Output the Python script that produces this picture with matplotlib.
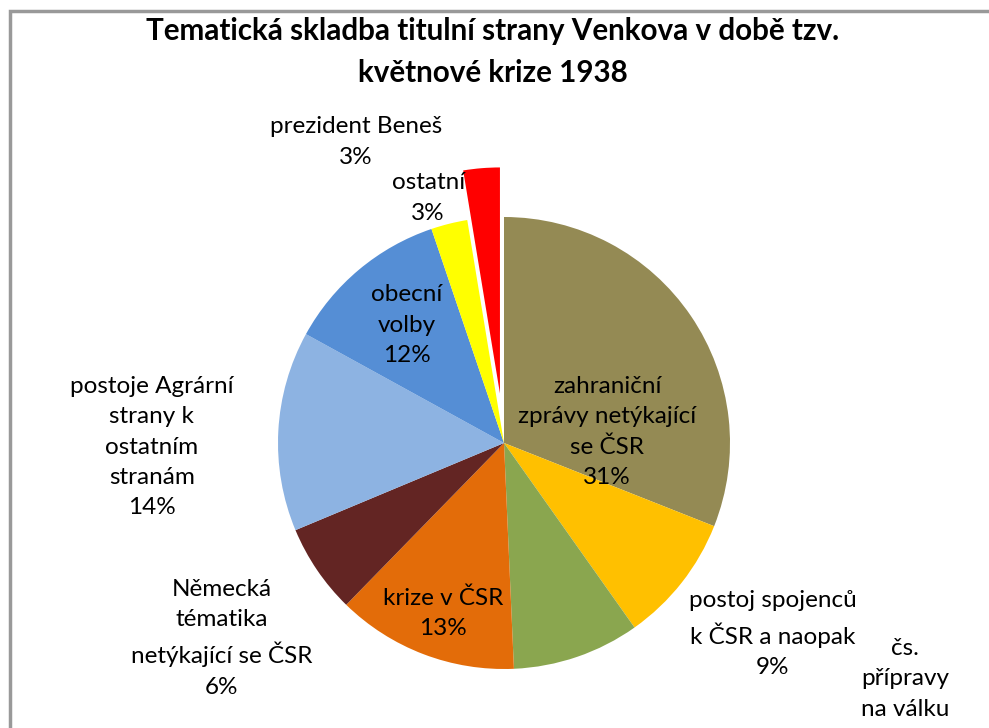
import matplotlib.pyplot as plt
from matplotlib.patches import Rectangle

# podíly témat (v %), po směru hodin od 12:00
temata = ['zahraniční\nzprávy netýkající\nse ČSR',
          'postoj spojenců\nk ČSR a naopak',
          'čs.\npřípravy\nna válku',
          'krize v ČSR',
          'Německá\ntématika\nnetýkající se ČSR',
          'postoje Agrární\nstrany k\nostatním\nstranám',
          'obecní\nvolby',
          'ostatní',
          'prezident Beneš']
podily = [31.0, 9.2, 9.1, 13.0, 6.4, 14.3, 11.8, 2.6, 2.6]
barvy = ['#948A54', '#FFC000', '#8AA64F', '#E36C09', '#632523',
         '#8DB3E2', '#558ED5', '#FFFF00', '#FF0000']
vysunuti = [0, 0, 0, 0, 0, 0, 0, 0, 0.22]

# pozice popisků (v poloměrech od středu)
popisky_xy = [(0.456, 0.049), (1.19, -0.845), (1.774, -1.11), (-0.27, -0.752),
              (-1.248, -0.863), (-1.558, -0.018), (-0.43, 0.522),
              (-0.336, 1.084), (-0.655, 1.332)]

plt.rcParams['font.family'] = ['Lato', 'DejaVu Sans']

W, H = 989, 728
cx, cy, r = 504, 443, 226

fig = plt.figure(figsize=(W / 100, H / 100), dpi=100)
ax = fig.add_axes([0, 0, 1, 1])

ax.pie(podily, colors=barvy, explode=vysunuti, startangle=90, counterclock=False,
       radius=1, wedgeprops=dict(linewidth=0))
ax.set_xlim(-cx / r, (W - cx) / r)
ax.set_ylim(-(H - cy) / r, cy / r)
ax.axis('off')

for text, hodnota, (x, y) in zip(temata, podily, popisky_xy):
    ax.text(x, y, '%s\n%d%%' % (text, round(hodnota)), ha='center', va='center',
            fontsize=17.5, linespacing=1.55, color='black')

fig.text(0.498, 1 - 52 / H, 'Tematická skladba titulní strany Venkova v době tzv.\nkvětnové krize 1938',
         ha='center', va='center', fontsize=21.3, fontweight='bold', linespacing=1.62)

fig.patches.append(Rectangle((10 / W, -0.1), 1.2, 1.1 - 11 / H, transform=fig.transFigure,
                             fill=False, edgecolor='#999999', linewidth=2.5))

fig.savefig('out.png', dpi=100)
